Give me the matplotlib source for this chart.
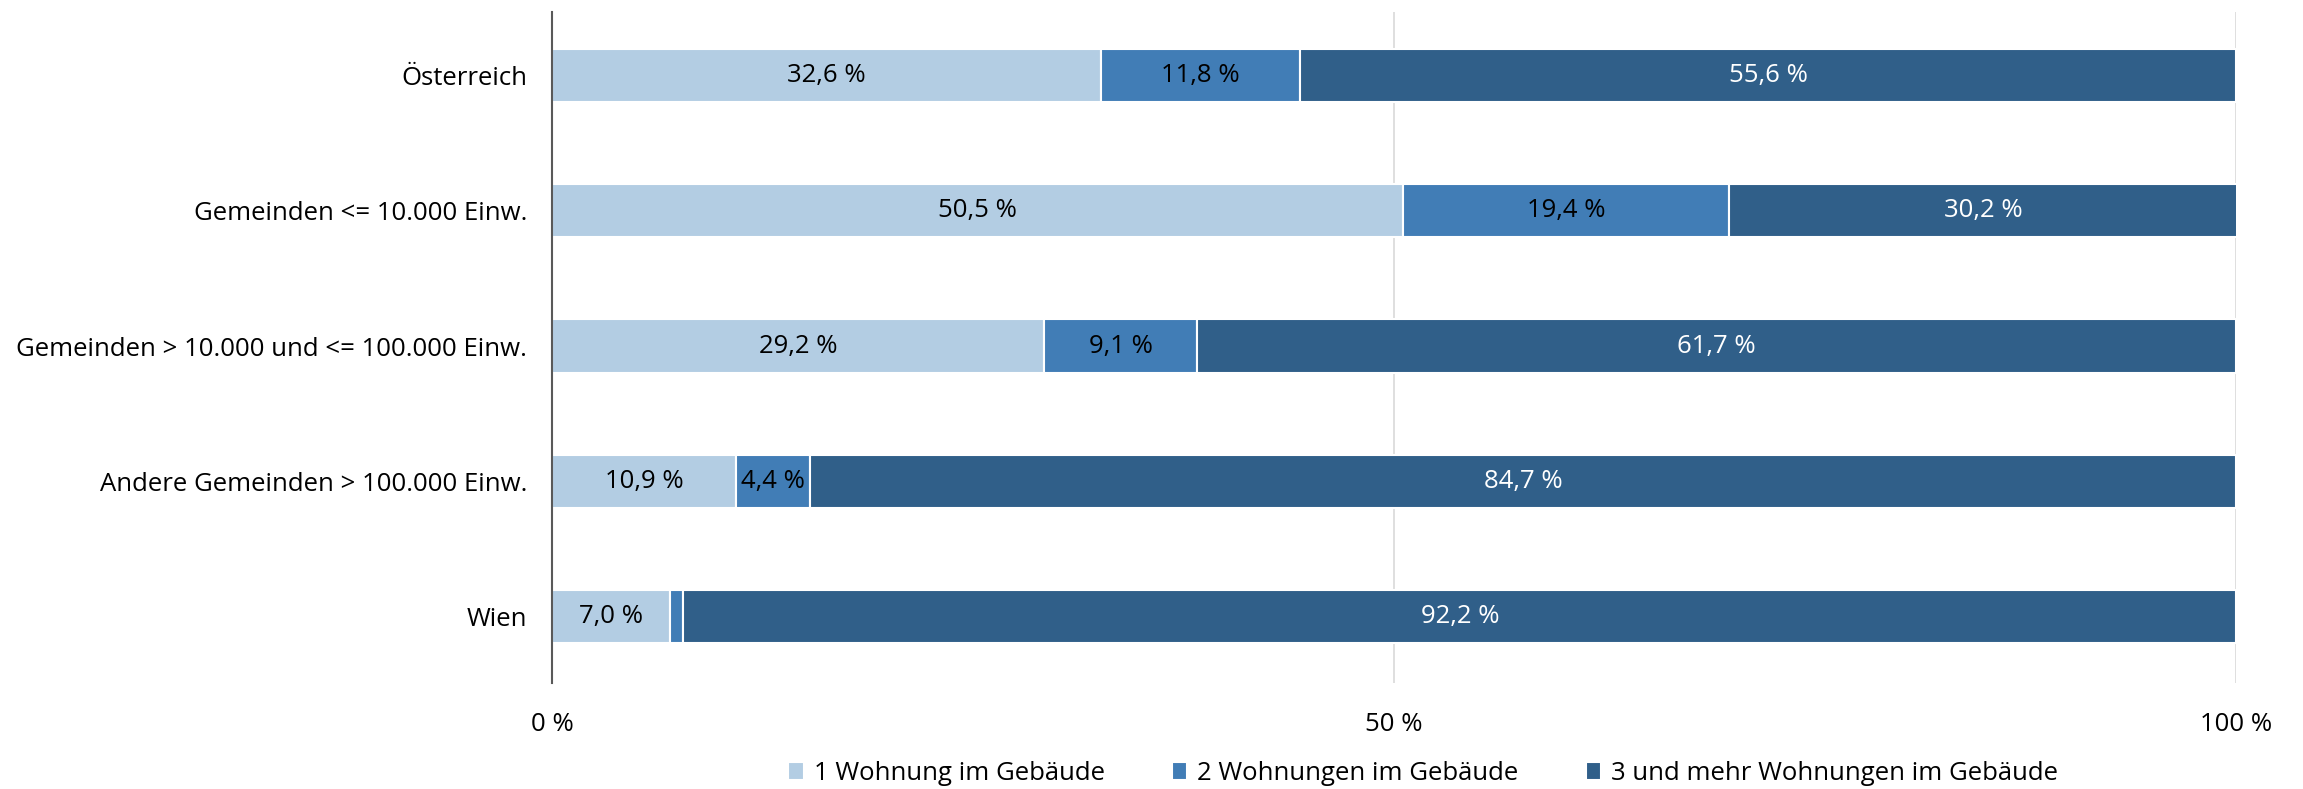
import matplotlib
matplotlib.use("Agg")
import matplotlib.pyplot as plt
import numpy as np

categories = ["Österreich", "Gemeinden <= 10.000 Einw.",
              "Gemeinden > 10.000 und <= 100.000 Einw.",
              "Andere Gemeinden > 100.000 Einw.", "Wien"]
series_names = ["1 Wohnung im Gebäude", "2 Wohnungen im Gebäude",
                "3 und mehr Wohnungen im Gebäude"]
one_flat = [32.6, 50.5, 29.2, 10.9, 7.0]
two_flats = [11.8, 19.4, 9.1, 4.4, 0.8]
three_plus = [55.6, 30.2, 61.7, 84.7, 92.2]
show_label = [[True] * 5, [True, True, True, True, False], [True] * 5]
xticks = [0, 50, 100]
xticklabels = ["0 %", "50 %", "100 %"]

colors = ["#B3CDE3", "#417DB6", "#305F89"]
text_colors = ["black", "black", "white"]

plt.rcParams['font.family'] = ['Open Sans', 'DejaVu Sans']
FS = 18.5

fig = plt.figure(figsize=(23.03, 7.89), dpi=100)
ax = fig.add_axes([0.2397, 0.1344, 0.9710 - 0.2397, 0.985 - 0.1344])

y = np.arange(len(categories))
left = np.zeros(len(categories))
for i, (vals, name) in enumerate(zip([one_flat, two_flats, three_plus], series_names)):
    vals = np.array(vals)
    bars = ax.barh(y, vals, left=left, height=0.395, color=colors[i],
                   edgecolor="white", linewidth=1.5, label=name, zorder=3)
    for j, b in enumerate(bars):
        if show_label[i][j]:
            ax.text(left[j] + vals[j] / 2, y[j],
                    f"{vals[j]:.1f} %".replace(".", ","),
                    ha="center", va="center", fontsize=FS,
                    color=text_colors[i], zorder=4)
    left += vals

ax.set_xlim(0, 100)
ax.set_ylim(len(categories) - 0.51, -0.47)
ax.set_yticks(y)
ax.set_yticklabels(categories, fontsize=FS)
ax.set_xticks(xticks)
ax.set_xticklabels(xticklabels, fontsize=FS)
ax.tick_params(axis="y", length=0, pad=18)
ax.tick_params(axis="x", length=0, pad=21)
ax.xaxis.grid(True, color="#D9D9D9", linewidth=1.2, zorder=0)
for s in ["top", "right", "bottom"]:
    ax.spines[s].set_visible(False)
ax.spines["left"].set_color("#595959")
ax.spines["left"].set_linewidth(1.5)
ax.spines["left"].set_zorder(5)

handles, labels = ax.get_legend_handles_labels()
fig.legend(handles, labels, loc="lower center", bbox_to_anchor=(0.618, -0.025),
           ncol=3, frameon=False, fontsize=FS, handlelength=0.6, handleheight=0.7,
           columnspacing=2.6, handletextpad=0.4)

fig.savefig("out.png", dpi=100)
